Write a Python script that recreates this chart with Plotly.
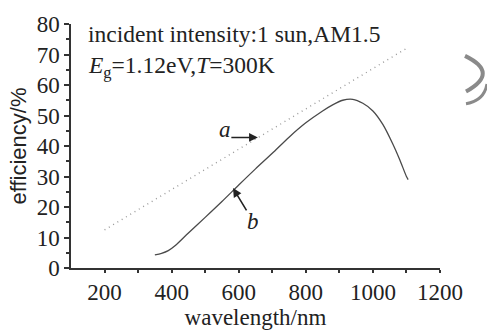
import plotly.graph_objects as go

# ---------------- data ----------------
a_wavelength = [200, 500, 800, 1100]
a_efficiency = [12.5, 32.3, 52.2, 72.0]

b_wavelength = [350, 370, 390, 410, 450, 500, 550, 600, 650, 700, 750, 800, 850, 880,
                910, 940, 970, 1000, 1030, 1060, 1080, 1100, 1105]
b_efficiency = [4.3, 4.8, 5.7, 7.3, 11.5, 16.6, 21.8, 27.2, 32.5, 37.6, 42.9, 47.6, 51.5,
                53.5, 55.0, 55.3, 54.0, 51.5, 47.0, 40.5, 35.5, 30.0, 29.0]

x_ticks = [200, 400, 600, 800, 1000, 1200]
y_ticks = [0, 10, 20, 30, 40, 50, 60, 70, 80]

W, H = 487, 333
L, R, T, B = 71, 47, 18, 55
PW, PH = W - L - R, H - T - B


def px(x):
    return (x - L) / PW


def py(y):
    return 1 - (y - T) / PH


SERIF = "Liberation Serif"
SANS = "Liberation Sans"

fig = go.Figure()
fig.add_trace(go.Scatter(x=a_wavelength, y=a_efficiency, mode="lines",
                         line=dict(color="#9a9a9a", width=1.4, dash="1px,4px"),
                         showlegend=False))
fig.add_trace(go.Scatter(x=b_wavelength, y=b_efficiency, mode="lines",
                         line=dict(color="#4a4a4a", width=1.3, shape="spline", smoothing=0.8),
                         showlegend=False))

annotations = [
    dict(xref="paper", yref="paper", x=px(86), y=py(29), xanchor="left", yanchor="middle",
         text="incident intensity:1 sun,AM1.5", showarrow=False,
         font=dict(family=SERIF, size=23.5, color="#222")),
    dict(xref="paper", yref="paper", x=px(86), y=py(64), xanchor="left", yanchor="middle",
         text="<i>E</i><sub>g</sub>=1.12eV,<i>T</i>=300K", showarrow=False,
         font=dict(family=SERIF, size=23.5, color="#222")),
    # label a with horizontal arrow
    dict(x=657, y=42.8, ax=-33, ay=0, text="<i>a</i>", showarrow=True, arrowhead=2,
         arrowsize=1.1, arrowwidth=1.6, arrowcolor="#222", standoff=0,
         height=40, valign="top", borderpad=0,
         font=dict(family=SERIF, size=23, color="#222")),
    # label b with diagonal arrow
    dict(x=583, y=26.2, ax=20, ay=33, text="<i>b</i>", showarrow=True, arrowhead=2,
         arrowsize=1.1, arrowwidth=1.6, arrowcolor="#222", standoff=0,
         height=22, valign="middle", borderpad=0,
         font=dict(family=SERIF, size=23, color="#222")),
]

shapes = [
    dict(type="path", xref="paper", yref="paper",
         path=f"M {px(465)} {py(52)} Q {px(500)} {py(70)} {px(466)} {py(90)}",
         line=dict(color="#8a8a8a", width=4)),
    dict(type="path", xref="paper", yref="paper",
         path=f"M {px(487)} {py(82)} Q {px(484)} {py(100)} {px(466)} {py(103)}",
         line=dict(color="#8a8a8a", width=3)),
]

fig.update_layout(
    width=W, height=H,
    margin=dict(l=L, r=R, t=T, b=B),
    paper_bgcolor="white", plot_bgcolor="white",
    annotations=annotations, shapes=shapes,
    font=dict(family=SERIF, color="#222"),
)
fig.update_xaxes(range=[100, 1200], tickvals=x_ticks, ticktext=[str(v) for v in x_ticks],
                 showgrid=False, zeroline=False, showline=True, linecolor="#333", linewidth=1.5,
                 ticks="outside", ticklen=3, tickcolor="#333", tickwidth=1.5,
                 minor=dict(tickvals=[300, 500, 700, 900, 1100], ticks="outside", ticklen=3,
                            tickcolor="#333", tickwidth=1.5),
                 tickfont=dict(family=SERIF, size=23, color="#222"),
                 title=dict(text="wavelength/nm", font=dict(family=SERIF, size=23, color="#222"),
                            standoff=0))
fig.update_yaxes(range=[0, 80], tickvals=y_ticks, ticktext=[str(v) for v in y_ticks],
                 showgrid=False, zeroline=False, showline=True, linecolor="#333", linewidth=1.5,
                 ticks="outside", ticklen=5, tickcolor="#333", tickwidth=1.5,
                 minor=dict(tickvals=[5, 15, 25, 35, 45, 55, 65, 75], ticks="outside", ticklen=3,
                            tickcolor="#333", tickwidth=1.5),
                 tickfont=dict(family=SERIF, size=23, color="#222"),
                 title=dict(text="efficiency/%", font=dict(family=SANS, size=22, color="#222"),
                            standoff=4))

fig.write_html("out.html")
